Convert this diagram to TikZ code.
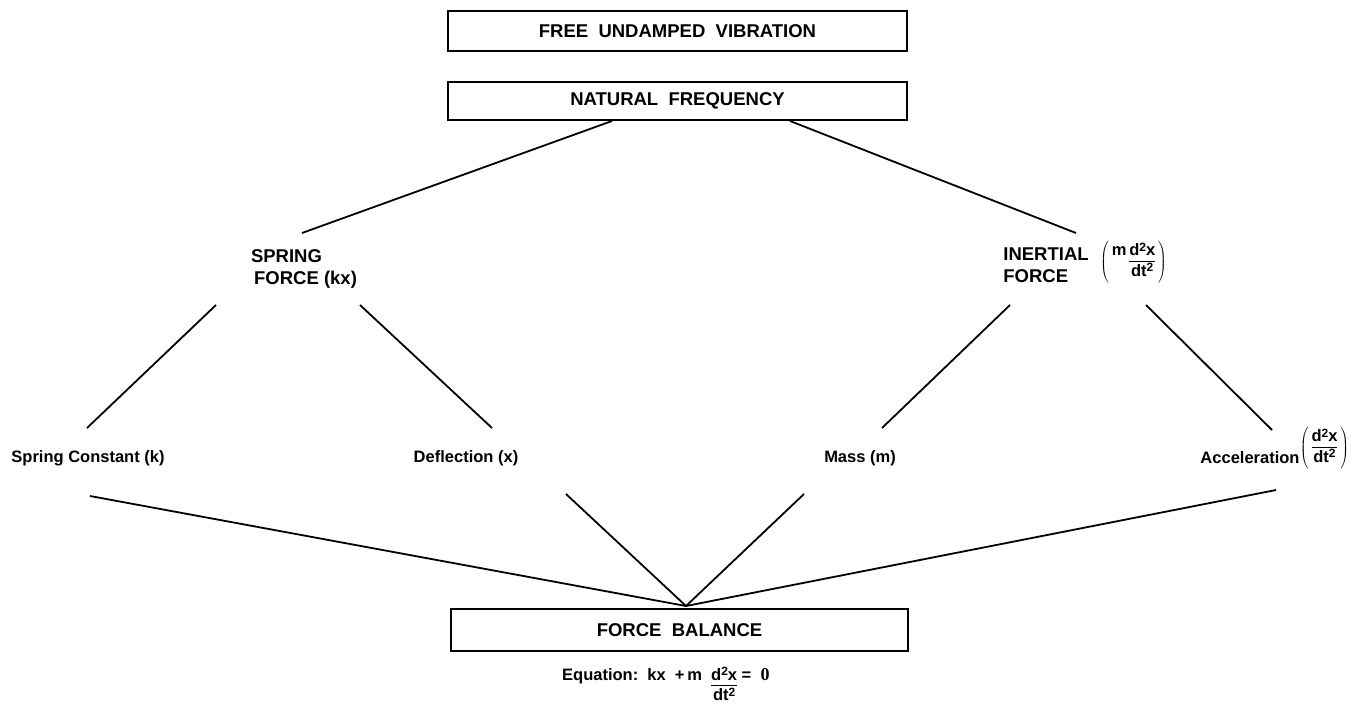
\documentclass[tikz,border=0pt]{standalone}
\usepackage{fontspec}
\setmainfont{Liberation Sans}
\newfontfamily\serifdigit{Liberation Serif}
\usetikzlibrary{calc}

% stacked fraction whose top row sits on the surrounding baseline
\newcommand\frc[2]{\begin{tabular}[t]{@{}c@{}}#1\\[-1pt]\hline\rule{0pt}{15pt}#2\end{tabular}}
\newcommand\sqr{\raisebox{0.5ex}{\fontsize{12}{12}\selectfont 2}}
\newcommand\dsq{d\sqr x}
\newcommand\dtsq{dt\sqr}

\tikzset{
  wire/.style={line width=1.8pt},
  headbox/.style={draw, line width=1.8pt, minimum width=459pt, minimum height=40pt,
                  inner sep=0pt, font=\fontsize{18.5}{22}\selectfont\bfseries},
  caps/.style={inner sep=0pt, align=left, font=\fontsize{18.5}{22}\selectfont\bfseries},
  small/.style={inner sep=0pt, font=\fontsize{16.5}{20}\selectfont\bfseries},
}

\begin{document}
\begin{tikzpicture}[x=1pt, y=-1pt]
  \useasboundingbox (0,0) rectangle (1357,704);

  % boxes
  \node[headbox] (top) at (677.5,31) {FREE\ \ UNDAMPED\ \ VIBRATION};
  \node[headbox, minimum height=38pt] (nat) at (677.5,101) {NATURAL\ \ FREQUENCY};
  \node[headbox, minimum width=457pt, minimum height=42pt] (fb) at (679.5,630) {FORCE\ \ BALANCE};

  % middle level
  \node[caps] (spring) at (304,269) {SPRING\\\,FORCE (kx)};
  \node[caps] (inertial) at (1046,265) {INERTIAL\\FORCE};
  \node[small, anchor=west] (ieq) at (1100,262)
    {$\left(\mkern3mu\vcenter{\hbox{m\,\frc{\dsq}{\dtsq}}}\mkern3mu\right)$};

  % lower level
  \node[small] (sc) at (88,458) {Spring Constant (k)};
  \node[small] (defl) at (466,458) {Deflection (x)};
  \node[small] (mass) at (860,458) {Mass (m)};
  \node[small] (acc) at (1250,458) {Acceleration};
  \node[small, anchor=west] (aeq) at ($(acc.east)+(0,-10)$)
    {$\left(\mkern3mu\vcenter{\hbox{\frc{\dsq}{\dtsq}}}\mkern3mu\right)$};

  % equation under the force balance box
  \node[small, anchor=base west] (eq) at (562,680)
    {Equation:\ \ kx\ \ +\,m\ \ \frc{\dsq}{\dtsq}\ = \ {\serifdigit\bfseries\fontsize{18}{20}\selectfont 0}};

  % connectors
  \draw[wire] ($(nat.center)+(-65.5,20)$) -- ($(spring.center)+(-2,-36)$);
  \draw[wire] ($(nat.center)+(112.5,20)$) -- ($(inertial.center)+(30,-32)$);

  \draw[wire] ($(spring.center)+(-88,36)$) -- ($(sc.center)+(-1,-30)$);
  \draw[wire] ($(spring.center)+(56,36)$) -- ($(defl.center)+(26,-30)$);
  \draw[wire] ($(inertial.center)+(-36,40)$) -- ($(mass.center)+(22,-30)$);
  \draw[wire] ($(inertial.center)+(100,40)$) -- ($(acc.center)+(22,-28)$);

  \draw[wire] ($(sc.center)+(2,38)$) -- ($(fb.center)+(6.5,-24)$);
  \draw[wire] ($(defl.center)+(100,36)$) -- ($(fb.center)+(6.5,-24)$);
  \draw[wire] ($(mass.center)+(-56,36)$) -- ($(fb.center)+(6.5,-24)$);
  \draw[wire] ($(acc.center)+(26,32)$) -- ($(fb.center)+(6.5,-24)$);
\end{tikzpicture}
\end{document}
